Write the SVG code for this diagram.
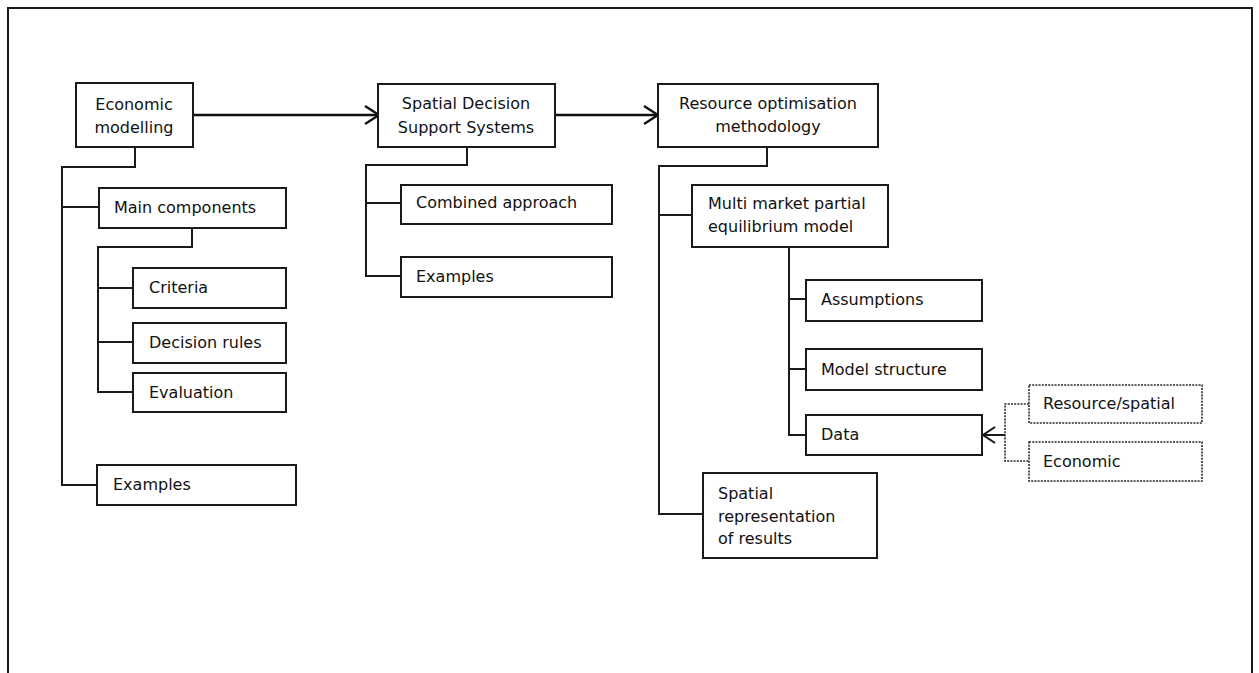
<svg xmlns="http://www.w3.org/2000/svg" width="1259" height="673" viewBox="0 0 1259 673">
  <style>
    .box { fill: #ffffff; stroke: #1a1a1a; stroke-width: 2; }
    .dbox { fill: #ffffff; stroke: #2a2a2a; stroke-width: 1.6; stroke-dasharray: 2 1.2; }
    .wire { fill: none; stroke: #1a1a1a; stroke-width: 2; }
    .dwire { fill: none; stroke: #2a2a2a; stroke-width: 1.6; stroke-dasharray: 2 1.2; }
    .flow { fill: none; stroke: #111111; stroke-width: 2.6; }
    text { font-family: "DejaVu Sans", Verdana, sans-serif; font-size: 16px; fill: #111111; }
    .c { text-anchor: middle; }
  </style>
  <defs>
    <marker id="open" viewBox="0 0 16 20" refX="15" refY="10" markerWidth="16" markerHeight="20" markerUnits="userSpaceOnUse" orient="auto">
      <path d="M1,1 L15,10 L1,19" fill="none" stroke="#111111" stroke-width="2.4"/>
    </marker>
    <marker id="openS" viewBox="0 0 14 18" refX="13" refY="9" markerWidth="14" markerHeight="18" markerUnits="userSpaceOnUse" orient="auto">
      <path d="M1,1 L13,9 L1,17" fill="none" stroke="#111111" stroke-width="2"/>
    </marker>
  </defs>

  <rect width="1259" height="673" fill="#ffffff"/>
  <!-- outer frame, open at the bottom edge -->
  <path d="M8,690 L8,8 L1252,8 L1252,690" fill="none" stroke="#1a1a1a" stroke-width="2"/>

  <g id="connectors">
    <!-- main flow -->
    <line class="flow" x1="193" y1="115" x2="379" y2="115" marker-end="url(#open)"/>
    <line class="flow" x1="555" y1="115" x2="658" y2="115" marker-end="url(#open)"/>
    <!-- economic modelling tree -->
    <path class="wire" d="M135,147 V167 H62 V485 H97"/>
    <path class="wire" d="M62,207 H99"/>
    <path class="wire" d="M192,228 V247 H98 V392 H133"/>
    <path class="wire" d="M98,288 H133"/>
    <path class="wire" d="M98,342 H133"/>
    <!-- SDSS tree -->
    <path class="wire" d="M467,147 V165 H366 V276 H401"/>
    <path class="wire" d="M366,203 H401"/>
    <!-- resource optimisation tree -->
    <path class="wire" d="M767,147 V166 H659 V514 H703"/>
    <path class="wire" d="M659,215 H692"/>
    <path class="wire" d="M789,247 V435 H806"/>
    <path class="wire" d="M789,299 H806"/>
    <path class="wire" d="M789,369 H806"/>
    <!-- data inputs -->
    <path class="dwire" d="M1029,404 H1005 V461 H1029"/>
    <line class="wire" x1="1005" y1="435" x2="983" y2="435" stroke-width="1.8" marker-end="url(#openS)"/>
  </g>

  <g id="economic-modelling">
    <rect class="box" x="76" y="83" width="117" height="64"/>
    <text class="c" x="134" y="110">Economic</text>
    <text class="c" x="134" y="133">modelling</text>
  </g>
  <g id="main-components">
    <rect class="box" x="99" y="188" width="187" height="40"/>
    <text x="114" y="213">Main components</text>
  </g>
  <g id="criteria">
    <rect class="box" x="133" y="268" width="153" height="40"/>
    <text x="149" y="293">Criteria</text>
  </g>
  <g id="decision-rules">
    <rect class="box" x="133" y="323" width="153" height="40"/>
    <text x="149" y="348">Decision rules</text>
  </g>
  <g id="evaluation">
    <rect class="box" x="133" y="373" width="153" height="39"/>
    <text x="149" y="398">Evaluation</text>
  </g>
  <g id="examples-economic">
    <rect class="box" x="97" y="465" width="199" height="40"/>
    <text x="113" y="490">Examples</text>
  </g>

  <g id="sdss">
    <rect class="box" x="378" y="84" width="177" height="63"/>
    <text class="c" x="466" y="109">Spatial Decision</text>
    <text class="c" x="466" y="133">Support Systems</text>
  </g>
  <g id="combined-approach">
    <rect class="box" x="401" y="185" width="211" height="39"/>
    <text x="416" y="208">Combined approach</text>
  </g>
  <g id="examples-sdss">
    <rect class="box" x="401" y="257" width="211" height="40"/>
    <text x="416" y="282">Examples</text>
  </g>

  <g id="resource-optimisation">
    <rect class="box" x="658" y="84" width="220" height="63"/>
    <text class="c" x="768" y="109">Resource optimisation</text>
    <text class="c" x="768" y="132">methodology</text>
  </g>
  <g id="multi-market">
    <rect class="box" x="692" y="185" width="196" height="62"/>
    <text x="708" y="209">Multi market partial</text>
    <text x="708" y="232">equilibrium model</text>
  </g>
  <g id="assumptions">
    <rect class="box" x="806" y="280" width="176" height="41"/>
    <text x="821" y="305">Assumptions</text>
  </g>
  <g id="model-structure">
    <rect class="box" x="806" y="349" width="176" height="41"/>
    <text x="821" y="375">Model structure</text>
  </g>
  <g id="data">
    <rect class="box" x="806" y="415" width="176" height="40"/>
    <text x="821" y="440">Data</text>
  </g>
  <g id="resource-spatial">
    <rect class="dbox" x="1029" y="385" width="173" height="38"/>
    <text x="1043" y="409">Resource/spatial</text>
  </g>
  <g id="economic-data">
    <rect class="dbox" x="1029" y="442" width="173" height="39"/>
    <text x="1043" y="467">Economic</text>
  </g>
  <g id="spatial-representation">
    <rect class="box" x="703" y="473" width="174" height="85"/>
    <text x="718" y="499">Spatial</text>
    <text x="718" y="522">representation</text>
    <text x="718" y="544">of results</text>
  </g>
</svg>
